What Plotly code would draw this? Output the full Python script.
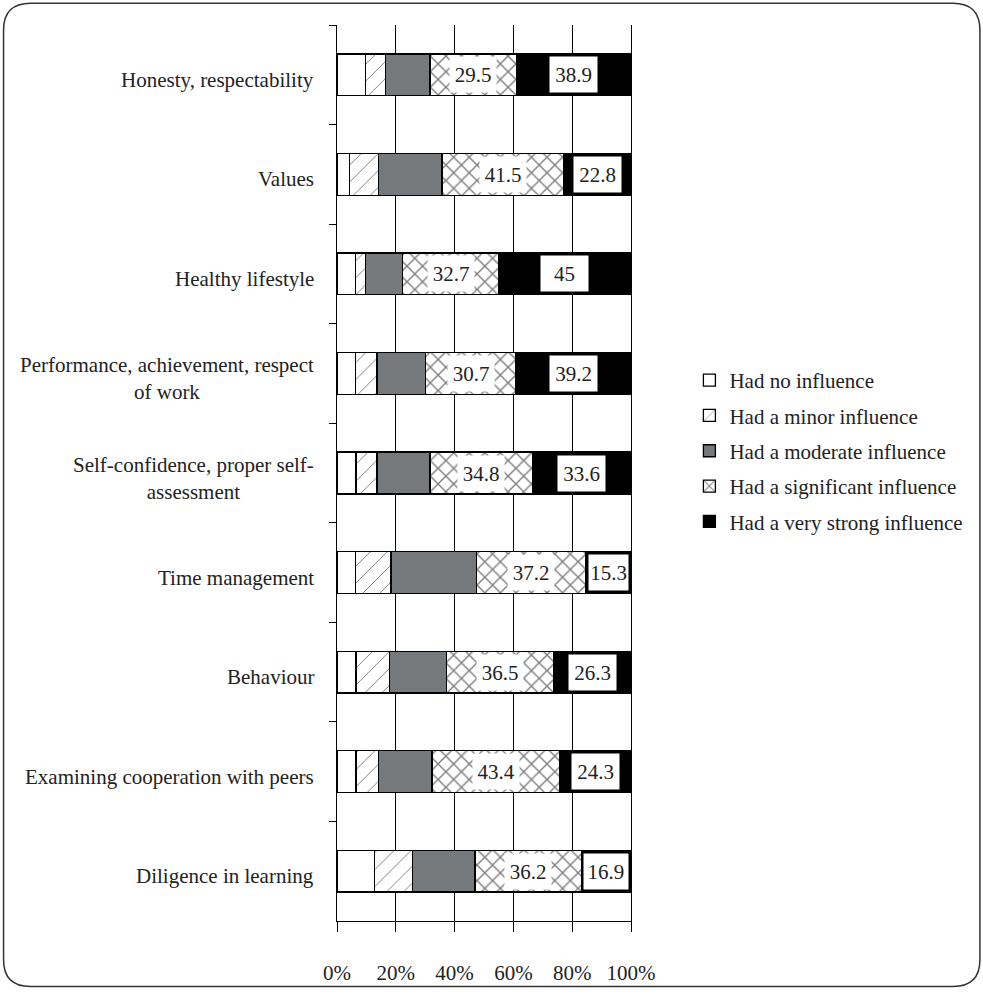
import plotly.graph_objects as go

# Survey items, top to bottom
categories = [
    "Honesty, respectability",
    "Values",
    "Healthy lifestyle",
    "Performance, achievement, respect<br>of work",
    "Self-confidence, proper self-<br>assessment",
    "Time management",
    "Behaviour",
    "Examining cooperation with peers",
    "Diligence in learning",
]

series_names = [
    "Had no influence",
    "Had a minor influence",
    "Had a moderate influence",
    "Had a significant influence",
    "Had a very strong influence",
]

# Shares of respondents (%)
no_influence = [9.8, 4.3, 6.2, 6.2, 6.5, 6.2, 6.5, 6.5, 12.7]
minor_influence = [6.8, 9.8, 3.6, 7.4, 7.1, 12.2, 11.3, 7.6, 12.9]
moderate_influence = [15.0, 21.6, 12.5, 16.5, 18.0, 29.1, 19.4, 18.2, 21.3]
significant_influence = [29.5, 41.5, 32.7, 30.7, 34.8, 37.2, 36.5, 43.4, 36.2]
very_strong_influence = [38.9, 22.8, 45.0, 39.2, 33.6, 15.3, 26.3, 24.3, 16.9]

x_tick_values = [0, 20, 40, 60, 80, 100]
x_tick_labels = ["0%", "20%", "40%", "60%", "80%", "100%"]

FONT = "'Liberation Serif', 'Times New Roman', Times, serif"
INK = "#222222"
FS = 21

# plot area geometry (pixels)
W, H = 983, 997
L, R, T, B = 337, 631.5, 25, 929
PW, PH = R - L, B - T


def px_to_paper_x(px):
    return (px - L) / PW


def px_to_paper_y(py):
    return (B - py) / PH


styles = [
    dict(color="white", pattern=dict(shape="")),
    dict(color="white", pattern=dict(shape="/", fgcolor="black", bgcolor="white",
                                     size=12, solidity=0.08, fillmode="overlay")),
    dict(color="#75797b", pattern=dict(shape="")),
    dict(color="white", pattern=dict(shape="x", fgcolor="black", bgcolor="white",
                                     size=11, solidity=0.24, fillmode="overlay")),
    dict(color="black", pattern=dict(shape="")),
]

series = [no_influence, minor_influence, moderate_influence,
          significant_influence, very_strong_influence]

fig = go.Figure()
for name, vals, st in zip(series_names, series, styles):
    fig.add_trace(go.Bar(
        y=categories, x=vals, name=name, orientation="h",
        width=0.42, legendgroup=name,
        marker=dict(color=st["color"], pattern=st["pattern"],
                    line=dict(color="black", width=1.3)),
        hoverinfo="x+y+name",
    ))

annotations = []
# value labels on the two strongest categories
for i, cat in enumerate(categories):
    start_sig = no_influence[i] + minor_influence[i] + moderate_influence[i]
    sig = significant_influence[i]
    vs = very_strong_influence[i]
    annotations.append(dict(
        x=start_sig + sig / 2, y=cat, xref="x", yref="y",
        text=f"{sig:g}", showarrow=False, bgcolor="white",
        width=46, height=35, borderpad=0,
        font=dict(family=FONT, size=FS, color=INK),
    ))
    seg_px = vs / 100 * PW
    annotations.append(dict(
        x=100 - vs / 2, y=cat, xref="x", yref="y",
        text=f"{vs:g}", showarrow=False, bgcolor="white",
        width=min(47, seg_px - 6), height=35, borderpad=0,
        font=dict(family=FONT, size=FS, color=INK),
    ))
    # category label, lines centred on each other
    annotations.append(dict(
        x=px_to_paper_x(316), y=cat, xref="paper", yref="y",
        xanchor="right", align="center", text=cat, showarrow=False,
        yshift=-5,
        font=dict(family=FONT, size=FS, color=INK),
    ))

# rounded frame around the figure
x0, x1, y0, y1, r = 3, 981, 3, 995, 27
pts = [
    ("M", (x0 + r, y0)), ("L", (x1 - r, y0)), ("Q", (x1, y0), (x1, y0 + r)),
    ("L", (x1, y1 - r)), ("Q", (x1, y1), (x1 - r, y1)),
    ("L", (x0 + r, y1)), ("Q", (x0, y1), (x0, y1 - r)),
    ("L", (x0, y0 + r)), ("Q", (x0, y0), (x0 + r, y0)),
]
path = ""
for cmd, *coords in pts:
    path += cmd + " ".join(f"{px_to_paper_x(a):.5f},{px_to_paper_y(b):.5f}" for a, b in coords) + " "
path += "Z"

fig.update_layout(
    width=W, height=H,
    margin=dict(l=L, r=W - R, t=T, b=H - B),
    barmode="stack",
    paper_bgcolor="white", plot_bgcolor="white",
    font=dict(family=FONT, size=FS, color=INK),
    showlegend=True,
    legend=dict(
        x=px_to_paper_x(690), y=px_to_paper_y(363),
        xanchor="left", yanchor="top",
        traceorder="grouped", tracegroupgap=5,
        font=dict(family=FONT, size=FS, color=INK),
        bgcolor="rgba(0,0,0,0)",
    ),
    annotations=annotations,
    shapes=[dict(type="path", xref="paper", yref="paper", path=path,
                 line=dict(color="#333333", width=1.5), layer="above")],
    xaxis=dict(
        range=[0, 100], tickvals=x_tick_values, ticktext=x_tick_labels,
        showgrid=True, gridcolor="black", gridwidth=1,
        showline=True, linecolor="black", linewidth=1,
        ticks="outside", ticklen=10, tickcolor="black", tickwidth=1,
        ticklabelstandoff=23, zeroline=False, fixedrange=True,
        tickfont=dict(family=FONT, size=FS, color=INK),
    ),
    yaxis=dict(
        type="category", categoryorder="array", categoryarray=categories,
        range=[8.5, -0.5], tickson="boundaries",
        showticklabels=False, showgrid=False,
        showline=True, mirror=True, linecolor="black", linewidth=1,
        ticks="outside", ticklen=7, tickcolor="black", tickwidth=1,
        zeroline=False, fixedrange=True,
    ),
)

fig.write_html("out.html")
